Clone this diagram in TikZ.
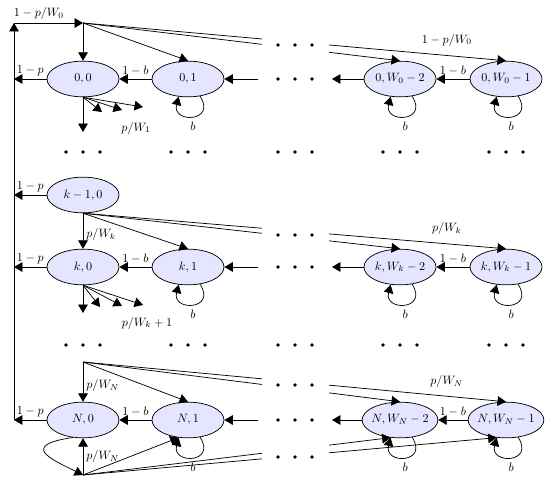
\documentclass[tikz,border=0pt]{standalone}
\usetikzlibrary{shapes.geometric,arrows.meta}
\tikzset{
  st/.style={ellipse, draw, line width=0.6pt, fill=blue!10, minimum width=59.5pt, minimum height=29.5pt, inner xsep=-1.5pt, inner ysep=0pt},
  arr/.style={-{Triangle[length=7pt,width=8pt]}, line width=0.6pt},
  ln/.style={line width=0.6pt},
  lbl/.style={inner sep=2.5pt}
}
\newcommand{\tridots}[2]{\foreach \dx in {-17,0,17} {\fill ({#1+\dx},#2) circle[radius=1.5pt];}}
\newcommand{\selfloop}[1]{\draw[arr] (#1.-55) .. controls +(17,26) and +(-7,27) .. node[lbl, below=2pt] (#1b) {$b$} (#1.-118);}
\begin{document}
\begin{tikzpicture}[x=0.826pt, y=-0.826pt]
\useasboundingbox (0,0) rectangle (550,488);
% states
\node[st] (n00) at (83,79) {$0,0$};
\node[st] (n01) at (188,79) {$0,1$};
\node[st] (n0a) at (400,79) {$0,W_0-2$};
\node[st] (n0b) at (506,79) {$0,W_0-1$};
\node[st] (nkm) at (83,195) {$k-1,0$};
\node[st] (nk0) at (83,267) {$k,0$};
\node[st] (nk1) at (188,267) {$k,1$};
\node[st] (nka) at (400,267) {$k,W_k-2$};
\node[st] (nkb) at (506,267) {$k,W_k-1$};
\node[st] (nN0) at (83,420) {$N,0$};
\node[st] (nN1) at (188,420) {$N,1$};
\node[st] (nNa) at (400,420) {$N,W_N-2$};
\node[st] (nNb) at (506,420) {$N,W_N-1$};
% helper points
\coordinate (c0) at (14,23);
\coordinate (t0) at (83,23);
\coordinate (l0) at (14,79);
\coordinate (lkm) at (14,195);
\coordinate (lk) at (14,267);
\coordinate (lN) at (14,420);
\coordinate (d0) at (83,132);
\coordinate (g01) at (102,112);
\coordinate (g02) at (122,110);
\coordinate (g03) at (143,107);
\coordinate (dk) at (83,313);
\coordinate (gk1) at (100,307);
\coordinate (gk2) at (122,306);
\coordinate (gk3) at (143,305);
\coordinate (tN) at (83,362);
\coordinate (bN) at (83,475);
\coordinate (r0in) at (258,79);
\coordinate (r0out) at (332,79);
\coordinate (rkin) at (258,267);
\coordinate (rkout) at (332,267);
\coordinate (rNin) at (258,420);
\coordinate (rNout) at (332,420);
% left return line
\draw[arr] (lN) -- (c0);
\draw[arr] (c0) -- node[lbl, above, pos=0.36] {$1-p/W_0$} (t0);
% row 0 entries
\draw[arr] (t0) -- (n00.north);
\draw[arr] (t0) -- (n01.north);
\draw[arr] (t0) -- (n0a.north);
\draw[arr] (t0) -- node[lbl, above=5pt, pos=0.86] {$1-p/W_0$} (n0b.north);
% row k entries
\draw[arr] (nkm.south) -- node[lbl, right, pos=0.6] {$p/W_k$} (nk0.north);
\draw[arr] (nkm.south) -- (nk1.north);
\draw[arr] (nkm.south) -- (nka.north);
\draw[arr] (nkm.south) -- node[lbl, above=5pt, pos=0.86] {$p/W_k$} (nkb.north);
% row N entries (top)
\draw[arr] (tN) -- node[lbl, right, pos=0.6] {$p/W_N$} (nN0.north);
\draw[arr] (tN) -- (nN1.north);
\draw[arr] (tN) -- (nNa.north);
\draw[arr] (tN) -- node[lbl, above=4pt, pos=0.86] {$p/W_N$} (nNb.north);
% row N entries (bottom)
\draw[arr] (bN) -- node[lbl, right] {$p/W_N$} (nN0.south);
\draw[arr] (bN) -- (nN1.-118);
\draw[arr] (bN) -- (nNa.-118);
\draw[arr] (bN) -- (nNb.-118);
\draw[arr] (nN0.-120) .. controls +(-55,8) and +(-30,-15) .. (bN);
% gap in the middle column
\fill[white] (262,12) rectangle (329,478);
% row 0 transitions
\draw[arr] (n00.west) -- node[lbl, above] {$1-p$} (l0);
\draw[arr] (n01.west) -- node[lbl, above] {$1-b$} (n00.east);
\draw[arr] (r0in) -- (n01.east);
\draw[arr] (n0a.west) -- (r0out);
\draw[arr] (n0b.west) -- node[lbl, above] {$1-b$} (n0a.east);
\draw[arr] (n00.south) -- (d0);
\draw[arr] (n00.south) -- (g01);
\draw[arr] (n00.south) -- (g02);
\draw[arr] (n00.south) -- (g03);
\node[lbl] (lw1) at (136,128) {$p/W_1$};
% row k-1
\draw[arr] (nkm.west) -- node[lbl, above] {$1-p$} (lkm);
% row k transitions
\draw[arr] (nk0.west) -- node[lbl, above] {$1-p$} (lk);
\draw[arr] (nk1.west) -- node[lbl, above] {$1-b$} (nk0.east);
\draw[arr] (rkin) -- (nk1.east);
\draw[arr] (nka.west) -- (rkout);
\draw[arr] (nkb.west) -- node[lbl, above] {$1-b$} (nka.east);
\draw[arr] (nk0.south) -- (dk);
\draw[arr] (nk0.south) -- (gk1);
\draw[arr] (nk0.south) -- (gk2);
\draw[arr] (nk0.south) -- (gk3);
\node[lbl] (lwk) at (147,323) {$p/W_k+1$};
% row N transitions
\draw[arr] (nN0.west) -- node[lbl, above] {$1-p$} (lN);
\draw[arr] (nN1.west) -- node[lbl, above] {$1-b$} (nN0.east);
\draw[arr] (rNin) -- (nN1.east);
\draw[arr] (nNa.west) -- (rNout);
\draw[arr] (nNb.west) -- node[lbl, above] {$1-b$} (nNa.east);
% self loops
\selfloop{n01}
\selfloop{n0a}
\selfloop{n0b}
\selfloop{nk1}
\selfloop{nka}
\selfloop{nkb}
\selfloop{nN1}
\selfloop{nNa}
\selfloop{nNb}
% dots
\tridots{295}{45}
\tridots{295}{79}
\foreach \cx in {83,188,295,400,506} {\tridots{\cx}{152}}
\tridots{295}{235}
\tridots{295}{267}
\foreach \cx in {83,188,295,400,506} {\tridots{\cx}{345}}
\tridots{295}{385}
\tridots{295}{420}
\tridots{295}{457}
\end{tikzpicture}
\end{document}
